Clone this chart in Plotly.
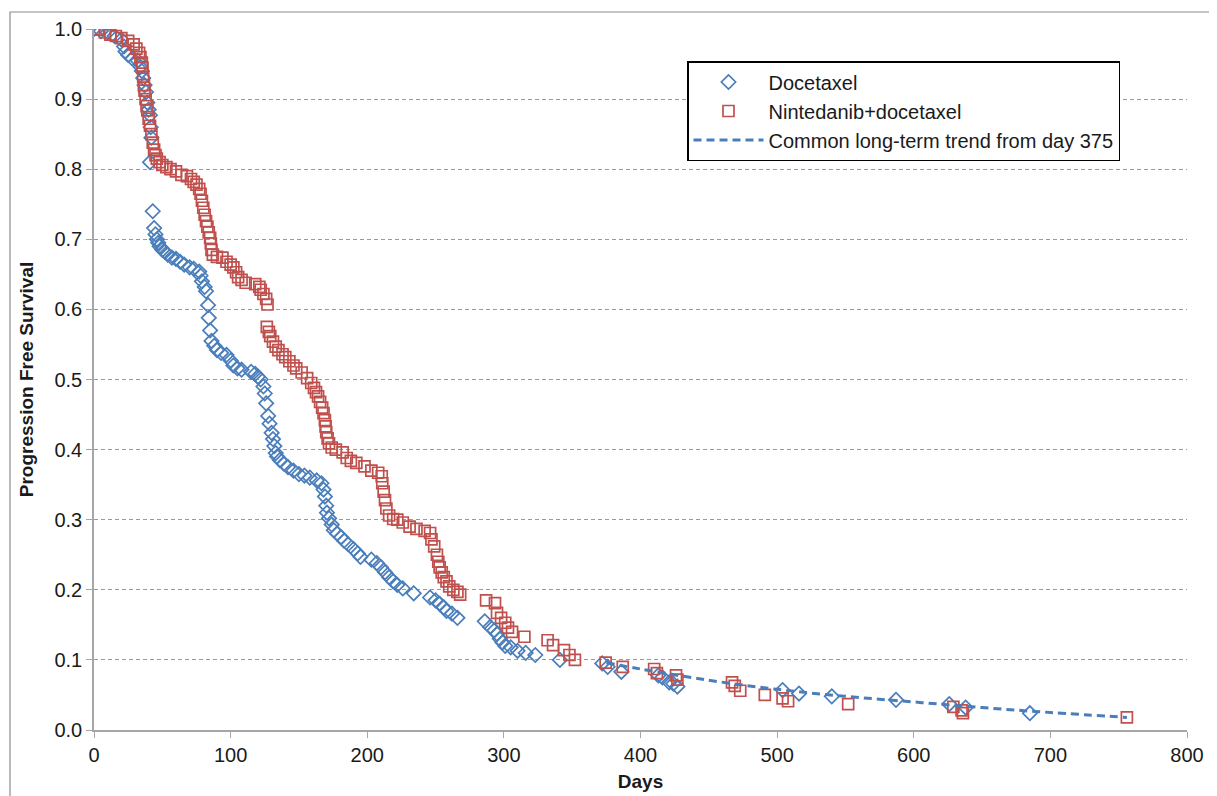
import plotly.graph_objects as go

# ---- data ----
doc_days = [0, 5, 10, 15, 20, 22, 23, 25, 28, 32, 34, 35, 36, 37, 38, 39, 40, 41, 41.5, 42, 41,
            43, 44, 45, 46, 47, 48, 50, 52, 54, 57, 60, 63, 66, 70, 73, 77, 78, 79, 81, 82, 83.5,
            84, 85, 86, 88, 90, 93, 97, 100, 102, 105, 108, 115, 118, 120, 122, 124, 125, 126,
            127.5, 128.5, 130, 131, 132, 133, 134, 136, 139, 142, 146, 150, 154, 158, 163, 166.5,
            168, 169, 170, 170.5, 172, 174, 175.5, 178, 181, 183, 186, 190, 193, 195, 203, 207,
            210, 213, 216, 219, 222, 226, 234, 246, 250, 253, 256, 258, 262, 266, 286, 290, 293,
            295, 297, 299, 301, 305, 310, 316, 323, 341, 372, 376, 386, 413, 416, 421, 424, 427,
            504, 516, 540, 587, 626, 638, 685]
doc_pfs = [1.0, 0.997, 0.995, 0.99, 0.985, 0.975, 0.968, 0.963, 0.958, 0.955, 0.946, 0.94, 0.93,
           0.92, 0.91, 0.895, 0.885, 0.877, 0.86, 0.845, 0.81,
           0.74, 0.716, 0.707, 0.70, 0.695, 0.69, 0.685, 0.682, 0.678, 0.674, 0.672, 0.668, 0.664,
           0.66, 0.658, 0.654, 0.648, 0.64, 0.632, 0.626, 0.606,
           0.588, 0.57, 0.555, 0.548, 0.542, 0.538, 0.535, 0.527, 0.52, 0.516, 0.514, 0.511, 0.508,
           0.504, 0.5, 0.49, 0.48, 0.466,
           0.448, 0.437, 0.424, 0.415, 0.405, 0.395, 0.39, 0.385, 0.38, 0.375, 0.37, 0.365, 0.363,
           0.36, 0.356, 0.352,
           0.343, 0.333, 0.32, 0.31, 0.302, 0.293, 0.285, 0.28, 0.275, 0.27, 0.265, 0.258, 0.252,
           0.247, 0.243, 0.238,
           0.232, 0.225, 0.218, 0.212, 0.207, 0.202, 0.195, 0.189, 0.185, 0.18, 0.175, 0.17, 0.166,
           0.16, 0.155, 0.147, 0.142,
           0.137, 0.13, 0.125, 0.12, 0.118, 0.113, 0.11, 0.107, 0.1, 0.095, 0.09, 0.083, 0.078,
           0.075, 0.068, 0.066, 0.062,
           0.057, 0.052, 0.048, 0.043, 0.037, 0.032, 0.024]

nin_days = [0, 3, 8, 12, 16, 20, 25, 29, 31, 33, 34, 35, 35.5, 36, 36.5, 37, 37.8, 38.5, 39, 40,
            41, 42, 43, 44, 45, 46, 48, 50, 53, 56, 60, 64, 68, 71, 73, 75, 77, 78, 79, 80, 81, 82,
            83, 84, 85, 85.5, 86, 87, 90, 94, 97, 100, 102, 104, 105.5, 108, 111, 118, 121, 122,
            124, 126, 127, 126.5, 128, 129, 131, 133, 135, 138, 140, 143, 146, 148, 152, 156, 159,
            161, 162.5, 164, 165.5, 167, 168, 169, 169.5, 170, 171, 172, 174, 177, 182, 185, 188,
            192, 198, 203, 208, 210.6, 211, 212, 213, 214, 216, 219, 222, 226, 231, 236, 242, 246,
            247, 249, 251, 252, 253, 254.5, 256, 258, 260, 263, 266, 268, 287, 293.5, 295, 298,
            301, 303, 306, 315, 332, 336, 344, 348, 352, 374.5, 387, 410, 412, 426, 427, 467, 469,
            473, 491, 504, 508, 552, 629, 635, 636, 756]
nin_pfs = [1.0, 0.999, 0.995, 0.992, 0.99, 0.987, 0.983, 0.978, 0.972, 0.966, 0.96, 0.952, 0.945,
           0.932, 0.92, 0.912, 0.9, 0.89, 0.884, 0.872,
           0.862, 0.85, 0.838, 0.828, 0.82, 0.815, 0.81, 0.806, 0.803, 0.8, 0.797, 0.792, 0.79,
           0.786, 0.782, 0.778, 0.772, 0.765, 0.755, 0.745, 0.735, 0.726,
           0.718, 0.71, 0.702, 0.694, 0.685, 0.678, 0.675, 0.674, 0.668, 0.664, 0.66, 0.653, 0.646,
           0.642, 0.638, 0.636, 0.632, 0.628,
           0.622, 0.615, 0.607, 0.575, 0.568, 0.562, 0.554, 0.547, 0.542, 0.536, 0.532, 0.526,
           0.52, 0.516, 0.51, 0.502, 0.495,
           0.488, 0.482, 0.476, 0.468, 0.46, 0.452, 0.442, 0.433, 0.425, 0.416, 0.409, 0.403, 0.4,
           0.396, 0.388, 0.384,
           0.381, 0.376, 0.37, 0.367, 0.362, 0.352, 0.34, 0.328, 0.316, 0.306, 0.301, 0.3, 0.296,
           0.29, 0.287, 0.284, 0.281,
           0.272, 0.262, 0.25, 0.24, 0.232, 0.225, 0.218, 0.212, 0.205, 0.2, 0.197, 0.193, 0.185,
           0.181, 0.167, 0.16,
           0.153, 0.146, 0.14, 0.133, 0.128, 0.121, 0.114, 0.107, 0.1, 0.096, 0.09, 0.087, 0.081,
           0.078, 0.072, 0.068, 0.063,
           0.056, 0.05, 0.045, 0.041, 0.037, 0.033, 0.028, 0.024, 0.018]

trend_days = [375, 400, 450, 500, 550, 600, 650, 700, 756]
trend_pfs = [0.096, 0.087, 0.071, 0.058, 0.048, 0.040, 0.032, 0.025, 0.018]

x_ticks = [0, 100, 200, 300, 400, 500, 600, 700, 800]
y_ticks = [0.0, 0.1, 0.2, 0.3, 0.4, 0.5, 0.6, 0.7, 0.8, 0.9, 1.0]
y_tick_labels = ["0.0", "0.1", "0.2", "0.3", "0.4", "0.5", "0.6", "0.7", "0.8", "0.9", "1.0"]

BLUE = "#4a7ebb"
RED = "#c0504d"
FONT = "Liberation Sans, Arial, sans-serif"

# page body has an 8px margin; size the figure so the plot area lands where it should
OFF = 8
W, H = 1217 - OFF, 796 - OFF
ML, MR, MT, MB = 94 - OFF, 30, 29 - OFF, 66
PW, PH = W - ML - MR, H - MT - MB

fig = go.Figure()

fig.add_trace(go.Scatter(
    x=doc_days, y=doc_pfs, mode="markers", name="Docetaxel", legendgroup="a",
    marker=dict(symbol="diamond-open", size=11, color=BLUE, line=dict(width=1.7, color=BLUE)),
))
fig.add_trace(go.Scatter(
    x=nin_days, y=nin_pfs, mode="markers", name="Nintedanib+docetaxel", legendgroup="b",
    marker=dict(symbol="square-open", size=11, color=RED, line=dict(width=1.7, color=RED)),
))
fig.add_trace(go.Scatter(
    x=trend_days, y=trend_pfs, mode="lines", name="Common long-term trend from day 375",
    legendgroup="c",
    line=dict(color=BLUE, width=3, dash="8px,5px", shape="spline"),
))

def px_x(p):
    return (p - OFF - ML) / PW

def px_y(p):
    return (H + OFF - MB - p) / PH

fig.add_shape(type="rect", xref="paper", yref="paper",
              x0=px_x(10), x1=px_x(1211), y0=px_y(12), y1=px_y(805),
              line=dict(color="#8c8c8c", width=1.2), fillcolor="rgba(0,0,0,0)", layer="below")

fig.update_layout(
    width=W, height=H,
    margin=dict(l=ML, r=MR, t=MT, b=MB, autoexpand=False),
    paper_bgcolor="white", plot_bgcolor="white",
    font=dict(family=FONT, size=20, color="#1a1a1a"),
    showlegend=True,
    legend=dict(
        x=px_x(687), y=px_y(61), xanchor="left", yanchor="top",
        bordercolor="#000000", borderwidth=1.5, bgcolor="white",
        font=dict(family=FONT, size=20, color="#1a1a1a"),
        itemwidth=70, tracegroupgap=0, traceorder="grouped",
    ),
    xaxis=dict(
        range=[0, 800], tickvals=x_ticks, ticktext=[str(v) for v in x_ticks],
        showgrid=False, zeroline=False, automargin=False,
        showline=True, linecolor="#a6a6a6", linewidth=1.5,
        ticks="outside", ticklen=6, tickcolor="#a6a6a6", tickwidth=1.2,
        tickfont=dict(size=20),
        title=dict(text="<b>Days</b>", font=dict(size=19), standoff=10),
    ),
    yaxis=dict(
        range=[0, 1.0], tickvals=y_ticks, ticktext=y_tick_labels,
        showgrid=True, gridcolor="#9a9a9a", gridwidth=1, griddash="4px,3px",
        zeroline=False, automargin=False,
        showline=True, linecolor="#a6a6a6", linewidth=1.5,
        ticks="outside", ticklen=6, tickcolor="#a6a6a6", tickwidth=1.2,
        tickfont=dict(size=20),
        title=dict(text="<b>Progression Free Survival</b>", font=dict(size=19), standoff=16),
    ),
)

fig.write_html("out.html")
